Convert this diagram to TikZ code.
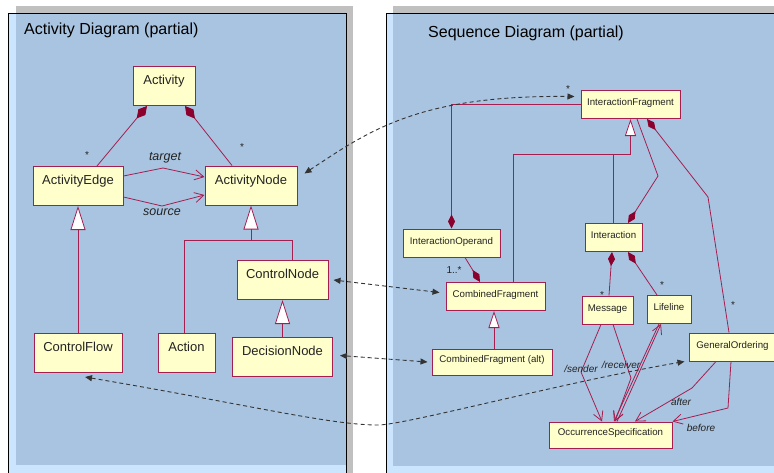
\documentclass[tikz,border=0pt]{standalone}
\usepackage{fontspec}
\setmainfont{Liberation Sans}
\usetikzlibrary{arrows.meta,positioning}
\definecolor{umlred}{RGB}{165,30,80}
\definecolor{umldark}{RGB}{140,0,45}
\definecolor{umlfill}{RGB}{255,255,204}
\definecolor{umltext}{RGB}{35,35,35}
\definecolor{panelblue}{RGB}{169,196,224}
\definecolor{panellight}{RGB}{204,229,255}
\definecolor{panelshadow}{RGB}{192,192,192}

\begin{document}
\begin{tikzpicture}[x=1pt, y=-1pt,
    cls/.style = {draw=umlred, fill=umlfill, line width=1pt, text=umltext,
      inner xsep=0pt, inner ysep=0pt},
    bigcls/.style = {cls, font=\fontsize{13}{15}\selectfont, text height=18pt, text depth=21pt},
    smallcls/.style = {cls, font=\fontsize{9.7}{11}\selectfont, text height=15pt, text depth=13pt},
    assoc/.style = {draw=umlred, line width=0.8pt},
    bigcomp/.style = {assoc, {Diamond[fill=umldark, color=umldark, length=16pt, width=9pt]}-},
    smallcomp/.style = {assoc, {Diamond[fill=umldark, color=umldark, length=14pt, width=7pt]}-},
    biggen/.style = {assoc, -{Triangle[fill=white, length=24pt, width=15pt]}},
    smallgen/.style = {assoc, -{Triangle[fill=white, length=17pt, width=11pt]}},
    nav/.style = {assoc, -{Straight Barb[length=9pt, width=10pt]}},
    trace/.style = {draw=black!80, line width=0.9pt, dash pattern=on 4pt off 3pt,
      {Triangle[length=7pt, width=6pt]}-{Triangle[length=7pt, width=6pt]}},
    bigrole/.style = {font=\itshape\fontsize{12.5}{14}\selectfont, text=umltext, inner sep=0pt},
    smallrole/.style = {font=\itshape\fontsize{10}{12}\selectfont, text=umltext, inner sep=0pt},
    mult/.style = {font=\fontsize{10}{12}\selectfont, text=umltext, inner sep=0pt},
    paneltitle/.style = {anchor=base west, font=\fontsize{16}{19}\selectfont, inner sep=0pt}]
  \useasboundingbox (0,0) rectangle (774,472);

  % panels
  \fill[panelshadow] (16,6) rectangle (353,480);
  \filldraw[fill=panellight, draw=black, line width=0.8pt] (8,13) rectangle (346,480);
  \fill[panelblue] (16,13.5) rectangle (345.5,465);
  \fill[panelshadow] (393,6) rectangle (790,480);
  \filldraw[fill=panellight, draw=black, line width=0.8pt] (386,13) rectangle (790,480);
  \fill[panelblue] (393,13.5) rectangle (790,466);

  \node[paneltitle] (atitle) at (24,34) {Activity Diagram (partial)};
  \node[paneltitle] (stitle) at (428,37) {Sequence Diagram (partial)};

  % activity diagram
  \node[bigcls, minimum width=62pt] (act) at (164,86) {Activity};
  \node[bigcls, minimum width=90pt] (aedge) at (78,186) {ActivityEdge};
  \node[bigcls, minimum width=92pt] (anode) at (251,185.5) {ActivityNode};
  \node[bigcls, minimum width=88pt] (cflow) at (78,353) {ControlFlow};
  \node[bigcls, minimum width=57pt, right=35pt of cflow] (action) {Action};
  \node[bigcls, minimum width=91pt] (cnode) at (282.5,280) {ControlNode};
  \node[bigcls, minimum width=100pt, below=37pt of cnode] (dnode) {DecisionNode};

  \draw[bigcomp] ([xshift=-17pt]act.south) -- ([xshift=19pt]aedge.north);
  \draw[bigcomp] ([xshift=21pt]act.south) -- ([xshift=-19pt]anode.north);
  \node[mult] (aedgestar) at (87,155) {*};
  \node[mult] (anodestar) at (242,147) {*};
  \draw[nav] ([yshift=10pt]aedge.east) -- (163,168) -- ([yshift=8.5pt]anode.west);
  \draw[nav] ([yshift=-11pt]aedge.east) -- (162,206) -- ([yshift=-9.5pt]anode.west);
  \node[bigrole] (target) at (165,158) {target};
  \node[bigrole] (source) at (162,212) {source};

  \draw[biggen] (cflow.north) -- (aedge.south);
  \coordinate (ajoin) at ([yshift=-35pt]anode.south);
  \draw[biggen] (ajoin) -- (anode.south);
  \draw[assoc] ([xshift=-2.5pt]action.north) |- (ajoin) -| ([xshift=10pt]cnode.north);
  \draw[biggen] (dnode.north) -- (cnode.south);

  % sequence diagram
  \node[smallcls, minimum width=99pt] (ifrag) at (630.5,104.5) {InteractionFragment};
  \node[smallcls, minimum width=97pt] (ioper) at (451.5,243) {InteractionOperand};
  \node[smallcls, minimum width=57pt] (inter) at (613.5,237.5) {Interaction};
  \node[smallcls, minimum width=99pt] (cfrag) at (495.5,296.5) {CombinedFragment};
  \node[smallcls, minimum width=120pt, text height=13pt] (cfalt) at (492,362) {CombinedFragment (alt)};
  \node[smallcls, minimum width=51pt] (msg) at (607.5,310) {Message};
  \node[smallcls, minimum width=44pt] (lline) at (669,309.5) {Lifeline};
  \node[smallcls, minimum width=87pt] (gord) at (732.5,347) {GeneralOrdering};
  \node[smallcls, minimum width=123pt, text height=13pt] (occ) at (610.5,435) {OccurrenceSpecification};

  \draw[smallcomp] (ioper.north) |- (ifrag.west);
  \coordinate (fjoin) at ([yshift=-35pt]ifrag.south);
  \draw[smallgen] (fjoin) -- (ifrag.south);
  \draw[assoc] ([xshift=17.5pt]cfrag.north) |- (fjoin);
  \draw[assoc] (inter.north) -- (inter.north |- fjoin);
  \draw[smallcomp] ([xshift=14.5pt]inter.north) -- (658,176) -- ([xshift=6.5pt]ifrag.south);
  \draw[smallcomp] ([xshift=16.5pt]ifrag.south) -- (708,197) -- ([xshift=-3.5pt]gord.north);
  \node[mult] (gordstar) at (733,305) {*};
  \draw[smallcomp] ([xshift=-15.5pt]cfrag.north) -- ([xshift=13.5pt]ioper.south);
  \node[mult] (operstar) at (454,270) {1..*};
  \draw[smallgen] ([xshift=2pt]cfalt.north) -- ([xshift=-1.5pt]cfrag.south);
  \draw[smallcomp] ([xshift=-1.5pt]inter.south) -- ([xshift=1.5pt]msg.north);
  \node[mult] (msgstar) at (602,295) {*};
  \draw[smallcomp] ([xshift=14.5pt]inter.south) -- ([xshift=-12pt]lline.north);
  \node[mult] (llinestar) at (662,285) {*};

  \draw[nav] ([xshift=-6.5pt]msg.south) -- (581,372) -- ([xshift=-8.5pt]occ.north);
  \draw[nav] ([xshift=5.5pt]msg.south) -- (631,378) -- ([xshift=4.5pt]occ.north);
  \node[smallrole] (sender) at (581,369) {/sender};
  \node[smallrole] (receiver) at (621,365) {/receiver};
  \draw[nav] ([xshift=6.5pt]occ.north) -- ([xshift=-8pt]lline.south);
  \draw[nav] ([xshift=-10pt]lline.south) -- ([xshift=3.5pt]occ.north);
  \draw[nav] ([xshift=-16.5pt]gord.south) -- (692,388) -- ([xshift=24.5pt]occ.north);
  \draw[nav] ([xshift=-1.5pt]gord.south) -- (728,408) -- (occ.north east);
  \node[smallrole] (after) at (681,402) {after};
  \node[smallrole] (before) at (701,428) {before};

  % traces between the two diagrams
  \draw[trace] ([xshift=7pt,yshift=12pt]anode.east) .. controls (370,130) and (420,95)
    .. ([xshift=-6pt,yshift=8pt]ifrag.west);
  \node[mult] (ifragstar) at (568,89) {*};
  \draw[trace] ([xshift=5pt]cnode.east) -- ([xshift=-6pt,yshift=4pt]cfrag.west);
  \draw[trace] ([xshift=7pt,yshift=1.5pt]dnode.east) -- ([xshift=-4pt]cfalt.west);
  \draw[trace] ([xshift=7pt,yshift=-4pt]cflow.south) .. controls (250,405) and (330,425)
    .. (378,425) .. controls (405,425) and (560,383) .. ([xshift=-4pt]gord.south west);
\end{tikzpicture}
\end{document}
